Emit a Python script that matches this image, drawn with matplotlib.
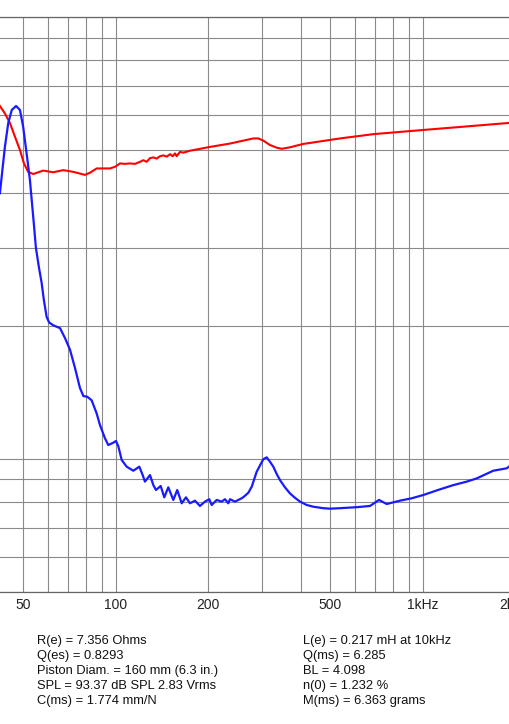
import matplotlib
matplotlib.use("Agg")
import matplotlib.pyplot as plt
from matplotlib.ticker import FixedLocator, NullFormatter

plt.rcParams['font.family'] = ['Liberation Sans', 'DejaVu Sans']

# Impedance magnitude (blue), Ohms
imp_freq = [42.0, 42.9, 43.6, 44.7, 45.9, 47.4, 48.8, 50.0, 51.3, 52.6, 53.3, 54.2,
            55.0, 56.3, 57.4, 58.4, 59.6, 60.7, 62.6, 65.9, 68.4, 71.0, 73.7, 76.5,
            78.5, 80.8, 83.5, 86.7, 88.9, 92.3, 94.6, 98.2, 100.2, 102.0, 104.6,
            108.6, 114.1, 119.4, 122.4, 124.5, 129.3, 132.6, 135.2, 140.1, 143.9,
            148.3, 154.0, 158.6, 164.0, 169.3, 174.5, 181.1, 188.0, 195.2, 201.6,
            205.3, 213.2, 221.3, 226.8, 232.5, 235.5, 244.4, 250.6, 257.0, 261.5,
            270.2, 277.2, 287.6, 302.2, 310.0, 317.8, 325.8, 334.2, 342.5, 355.5,
            369.1, 383.3, 397.9, 418.4, 439.5, 473.7, 498.1, 537.0, 608.4, 672.2,
            719.2, 761.9, 841.7, 918.8, 1002, 1136, 1255, 1388, 1495, 1693, 1873,
            1919]
imp_ohm = [40.0, 45.9, 50.9, 57.6, 61.7, 63.0, 61.7, 56.5, 49.2, 42.8, 38.6, 33.9,
           30.1, 27.1, 25.1, 22.9, 21.0, 20.4, 20.1, 19.8, 18.8, 17.7, 16.1, 14.5,
           13.9, 13.85, 13.6, 12.7, 11.95, 11.15, 10.77, 10.9, 11.0, 10.7, 9.96,
           9.62, 9.42, 9.62, 9.21, 8.90, 9.21, 8.74, 8.52, 8.70, 8.20,
           8.64, 8.09, 8.52, 7.95, 8.20, 7.95, 8.06, 7.84, 8.02, 8.12,
           7.88, 8.09, 8.02, 8.12, 7.95, 8.12, 8.02, 8.09, 8.16, 8.23,
           8.40, 8.67, 9.37, 10.0, 10.1, 9.87, 9.62, 9.26, 8.97, 8.64,
           8.37, 8.18, 8.02, 7.88, 7.81, 7.75, 7.73, 7.75, 7.79, 7.84,
           8.09, 7.92, 8.06, 8.16, 8.30, 8.55, 8.74, 8.90, 9.05, 9.42, 9.54,
           9.66]

# Second trace (red), read on the same scale
red_freq = [42.0, 43.6, 45.3, 47.0, 48.8, 50.3, 51.9, 53.9, 58.1, 62.6, 67.5, 72.8,
            79.4, 82.5, 86.7, 91.1, 95.8, 99.5, 103.3, 107.2, 111.3, 115.6, 120.0,
            123.0, 126.1, 129.3, 132.6, 135.9, 139.4, 142.9, 146.6, 150.2, 153.3,
            156.0, 157.9, 161.9, 166.0, 174.5, 202.7, 235.5, 266.9, 280.4, 291.1,
            302.2, 317.8, 334.2, 347.0, 369.1, 407.9, 537.0, 689.1, 1002, 1458,
            1919]
red_val = [63.0, 60.6, 57.6, 53.7, 50.1, 46.7, 44.7, 44.2, 45.0, 44.6, 45.1, 44.7,
           44.0, 44.5, 45.5, 45.5, 45.5, 45.9, 46.7, 46.6, 46.7, 46.6, 47.1,
           47.5, 47.1, 48.0, 48.2, 47.9, 48.5, 48.7, 48.4, 49.0, 48.5,
           49.2, 48.5, 49.6, 49.4, 49.9, 50.9, 51.8, 52.8, 53.2, 53.2,
           52.6, 51.4, 50.7, 50.4, 50.8, 51.7, 53.2, 54.4, 55.6, 56.8,
           57.7]

x_ticks = [50, 100, 200, 500, 1000, 2000]
x_tick_labels = ["50", "100", "200", "500", "1kHz", "2kHz"]
x_grid = [50, 60, 70, 80, 90, 100, 200, 300, 400, 500, 600, 700, 800, 900, 1000, 2000]
y_grid = [5, 6, 7, 8, 9, 10, 20, 30, 40, 50, 60, 70, 80, 90, 100]

left_params = ["R(e) = 7.356 Ohms", "Q(es) = 0.8293", "Piston Diam. = 160 mm (6.3 in.)",
               "SPL = 93.37 dB SPL 2.83 Vrms", "C(ms) = 1.774 mm/N"]
right_params = ["L(e) = 0.217 mH at 10kHz", "Q(ms) = 6.285", "BL = 4.098",
                "n(0) = 1.232 %", "M(ms) = 6.363 grams"]

W, H = 510, 724
fig = plt.figure(figsize=(W / 100, H / 100), dpi=100)
# axes extends beyond the visible figure on left/right (cropped chart)
x_left_px, x_right_px = -6.6, 515.5
y_top_px, y_bot_px = 17.3, 592.3
ax = fig.add_axes([x_left_px / W, (H - y_bot_px) / H,
                   (x_right_px - x_left_px) / W, (y_bot_px - y_top_px) / H])
ax.set_xscale('log')
ax.set_yscale('log')
ax.set_xlim(40, 2000)
ax.set_ylim(5, 100)

ax.xaxis.set_major_locator(FixedLocator(x_ticks))
ax.set_xticklabels(x_tick_labels)
ax.xaxis.set_minor_locator(FixedLocator(x_grid))
ax.xaxis.set_minor_formatter(NullFormatter())
ax.yaxis.set_major_locator(FixedLocator(y_grid))
ax.yaxis.set_minor_locator(FixedLocator([]))
ax.set_yticklabels([])
ax.tick_params(axis='both', which='both', length=0)
ax.tick_params(axis='x', labelsize=10, pad=4, colors='#222222')

ax.grid(True, which='both', axis='x', color='#8a8a8a', linewidth=0.8)
ax.grid(True, which='major', axis='y', color='#8a8a8a', linewidth=0.8)

for s in ax.spines.values():
    s.set_color('#666666')
    s.set_linewidth(0.9)

ax.plot(red_freq, red_val, color='#ff0000', linewidth=1.5, zorder=3,
        solid_joinstyle='round')
ax.plot(imp_freq, imp_ohm, color='#1a1aff', linewidth=1.6, zorder=4,
        solid_joinstyle='round')

y0 = 644.3
for i, t in enumerate(left_params):
    fig.text(37.3 / W, (H - (y0 + 15 * i)) / H, t, fontsize=9.3, va='baseline',
             ha='left', color='#111111')
for i, t in enumerate(right_params):
    fig.text(303.3 / W, (H - (y0 + 15 * i)) / H, t, fontsize=9.3, va='baseline',
             ha='left', color='#111111')

fig.savefig("out.png", dpi=100)
